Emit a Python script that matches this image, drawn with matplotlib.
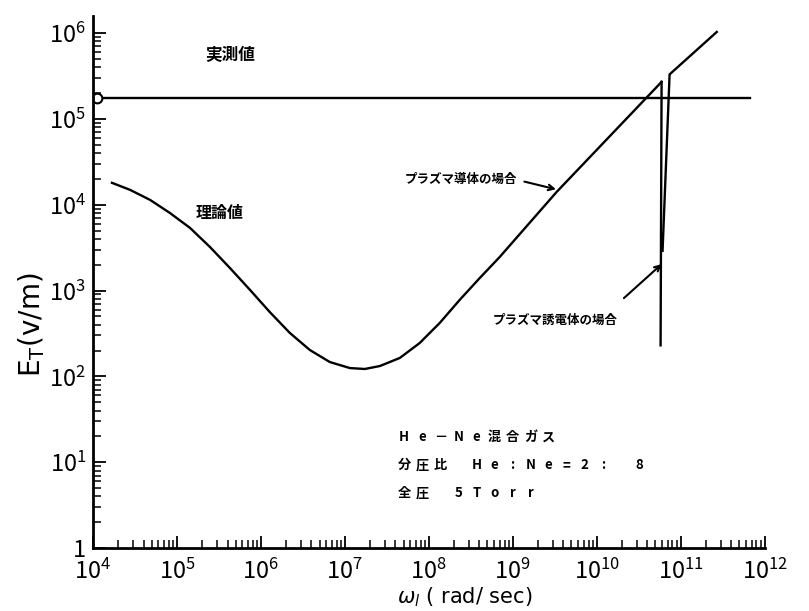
import numpy as np
import matplotlib
matplotlib.use("Agg")
import matplotlib.pyplot as plt
from matplotlib.ticker import LogLocator, FuncFormatter, NullFormatter

plt.rcParams['font.family'] = ['Noto Sans CJK JP', 'DejaVu Sans']

# theoretical curve (omega_l in rad/sec, E_T in v/m)
theory_w = [1.68e4, 2.76e4, 4.77e4, 8.26e4, 1.43e5, 2.47e5, 4.28e5, 7.4e5,
            1.28e6, 2.21e6, 3.83e6, 6.62e6, 1.15e7, 1.73e7, 2.61e7, 4.52e7,
            7.8e7, 1.35e8, 2.34e8, 4.05e8, 7.0e8, 3.34e9, 5.94e10]
theory_e = [1.8e4, 1.49e4, 1.14e4, 8.0e3, 5.37e3, 3.22e3, 1.83e3, 1.02e3,
            5.6e2, 3.21e2, 2.03e2, 1.47e2, 1.25e2, 1.22e2, 1.32e2, 1.64e2,
            2.45e2, 4.19e2, 7.8e2, 1.40e3, 2.46e3, 1.41e4, 2.7e5]

# plasma dielectric case: sharp drop and jump near resonance
drop_w = [5.94e10, 5.78e10]
drop_e = [2.7e5, 2.3e2]
jump_w = [6.1e10, 7.4e10, 2.7e11]
jump_e = [2.9e3, 3.3e5, 1.03e6]

# measured value
meas_w = [1.1e4, 6.8e11]
meas_e = [1.75e5, 1.75e5]

# gas conditions note, one character per cell
note_rows = ['He－Ne混合ガス', '分圧比 He:Ne=2: 8', '全圧 5Torr']

fig = plt.figure(figsize=(8.09, 6.11), dpi=100)
ax = fig.add_axes([0.115, 0.103, 0.83, 0.871])

lw = 1.7
ax.plot(theory_w, theory_e, color='black', lw=lw, solid_joinstyle='round')
ax.plot(drop_w, drop_e, color='black', lw=lw)
ax.plot(jump_w, jump_e, color='black', lw=lw)
ax.plot(meas_w, meas_e, color='black', lw=lw)
ax.plot(meas_w[0], meas_e[0], 'o', mfc='white', mec='black', ms=7, mew=1.5)

ax.set_xscale('log')
ax.set_yscale('log')
ax.set_xlim(1e4, 1e12)
ax.set_ylim(1, 10 ** 6.2)

for s in ['top', 'right']:
    ax.spines[s].set_visible(False)
for s in ['left', 'bottom']:
    ax.spines[s].set_linewidth(2)

ax.xaxis.set_major_locator(LogLocator(base=10, numticks=20))
ax.yaxis.set_major_locator(LogLocator(base=10, numticks=20))
ax.xaxis.set_minor_locator(LogLocator(base=10, subs=np.arange(2, 10), numticks=20))
ax.yaxis.set_minor_locator(LogLocator(base=10, subs=np.arange(2, 10), numticks=20))
ax.xaxis.set_minor_formatter(NullFormatter())
ax.yaxis.set_minor_formatter(NullFormatter())


def fmt(v, pos):
    p = int(round(np.log10(v)))
    if p == 0:
        return '1'
    return r'$\mathregular{10^{%d}}$' % p


ax.xaxis.set_major_formatter(FuncFormatter(fmt))
ax.yaxis.set_major_formatter(FuncFormatter(fmt))
ax.tick_params(which='major', direction='in', length=9, width=1.3, labelsize=17)
ax.tick_params(which='minor', direction='in', length=6, width=1.1)
ax.tick_params(axis='y', pad=5)
ax.tick_params(axis='x', pad=8)

ax.set_ylabel(r'$\mathregular{E_T}$(v/m)', fontsize=20, family='DejaVu Sans')
ax.yaxis.set_label_coords(-0.068, 0.42)
ax.set_xlabel(r'$\omega_l$ ( rad/ sec)', fontsize=15, family='DejaVu Sans')
ax.xaxis.set_label_coords(0.554, -0.071)

# labels
ax.text(10 ** 5.63, 10 ** 5.75, '実測値', fontsize=12, fontweight='bold', ha='center', va='center')
ax.text(10 ** 5.51, 10 ** 3.90, '理論値', fontsize=11.5, fontweight='bold', ha='center', va='center')
ax.text(10 ** 7.71, 10 ** 4.30, 'プラズマ導体の場合', fontsize=9, fontweight='bold', ha='left', va='center')
ax.annotate('', xy=(10 ** 9.548, 10 ** 4.172), xytext=(10 ** 9.107, 10 ** 4.277),
            arrowprops=dict(arrowstyle='->', color='black', lw=1.5))
ax.text(10 ** 8.762, 10 ** 2.657, 'プラズマ誘電体の場合', fontsize=9, fontweight='bold', ha='left', va='center')
ax.annotate('', xy=(10 ** 10.8, 10 ** 3.33), xytext=(10 ** 10.3, 10 ** 2.89),
            arrowprops=dict(arrowstyle='->', color='black', lw=1.5))

# typewriter-like note: every character centred in a fixed-width cell
pitch = 13.0  # points
for i, row in enumerate(note_rows):
    y = 10 ** (1.29 - 0.325 * i)
    for j, ch in enumerate(row):
        if ch == ' ':
            continue
        ax.annotate(ch, xy=(10 ** 7.6, y), xytext=(j * pitch + pitch / 2, 0),
                    textcoords='offset points', fontsize=9.5, fontweight='bold',
                    ha='center', va='center')

fig.savefig('out.png', dpi=100)
